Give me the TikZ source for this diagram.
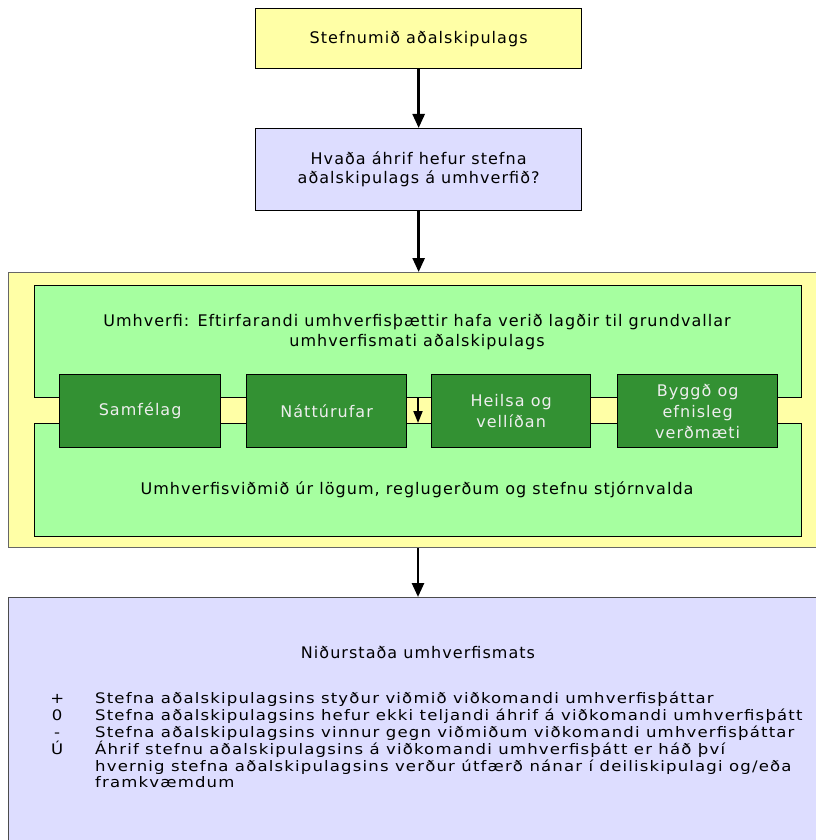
\documentclass[tikz,border=0pt]{standalone}
\usepackage{fontspec}
\setmainfont{DejaVu Sans}[LetterSpace=6.5]
\newfontfamily\listfont{DejaVu Sans}[LetterSpace=8, FakeStretch=1.14]
\usetikzlibrary{arrows.meta}
\definecolor{yel}{RGB}{255,255,166}
\definecolor{lav}{RGB}{221,221,255}
\definecolor{ltgreen}{RGB}{166,255,160}
\definecolor{dkgreen}{RGB}{51,145,51}
\definecolor{ltext}{RGB}{238,238,238}
\begin{document}
\begin{tikzpicture}[x=1pt,y=-1pt,
  box/.style={draw=black, line width=1.3pt, inner sep=0pt, anchor=north west},
  arr/.style={line width=2.6pt, -{Triangle[width=12pt,length=14pt]}},
  sarr/.style={line width=1.8pt, -{Triangle[width=9pt,length=12pt]}},
  txt/.style={inner sep=0pt, align=center, font=\fontsize{16}{20}\selectfont},
  dark/.style={box, fill=dkgreen, text=ltext, minimum height=73pt, align=center, font=\fontsize{16}{21}\selectfont}]
\useasboundingbox (0,0) rectangle (815,840);
\fill[white] (0,0) rectangle (815,840);
% top boxes
\node[box, fill=yel, minimum width=326pt, minimum height=60pt, font=\fontsize{16}{19}\selectfont] (top) at (255,8) {Stefnumið aðalskipulags};
\node[box, fill=lav, minimum width=326pt, minimum height=82pt, align=center, font=\fontsize{16}{19}\selectfont] (q) at (255,128) {Hvaða áhrif hefur stefna\\aðalskipulags á umhverfið?};
% outer yellow
\node[box, draw=black!60, line width=1pt, fill=yel, minimum width=822pt, minimum height=275pt] (outer) at (8,272) {};
\node[box, fill=ltgreen, minimum width=767pt, minimum height=112pt] (gtop) at (34,285) {};
\node[box, fill=ltgreen, minimum width=767pt, minimum height=113pt] (gbot) at (34,423) {};
\node[txt] (gtext) at (417,332) {Umhverfi: Eftirfarandi umhverfisþættir hafa verið lagðir til grundvallar\\umhverfismati aðalskipulags};
\node[txt] (btext) at (417,490) {Umhverfisviðmið úr lögum, reglugerðum og stefnu stjórnvalda};
% dark boxes
\node[dark, minimum width=161pt] (d1) at (59,374) {Samfélag};
\node[dark, minimum width=160pt] (d2) at (246,374) {Náttúrufar};
\node[dark, minimum width=159pt] (d3) at (431,374) {Heilsa og\\vellíðan};
\node[dark, minimum width=160pt] (d4) at (617,374) {Byggð og\\efnisleg\\verðmæti};
\coordinate (ax) at (418,0);
\draw[sarr] (gtop.south -| ax) -- (gbot.north -| ax);
% result
\node[box, draw=black!70, line width=1pt, fill=lav, minimum width=822pt, minimum height=263pt] (res) at (8,597) {};
\node[txt] (rtitle) at (418,653) {Niðurstaða umhverfismats};
\node[anchor=north west, inner sep=0pt, align=left, font=\listfont\fontsize{14.5}{16.8}\selectfont] (list) at (46,692) {%
\makebox[22pt]{+}\hspace{27pt}Stefna aðalskipulagsins styður viðmið viðkomandi umhverfisþáttar\\
\makebox[22pt]{0}\hspace{27pt}Stefna aðalskipulagsins hefur ekki teljandi áhrif á viðkomandi umhverfisþátt\\
\makebox[22pt]{-}\hspace{27pt}Stefna aðalskipulagsins vinnur gegn viðmiðum viðkomandi umhverfisþáttar\\
\makebox[22pt]{Ú}\hspace{27pt}Áhrif stefnu aðalskipulagsins á viðkomandi umhverfisþátt er háð því\\
\hspace{49pt}hvernig stefna aðalskipulagsins verður útfærð nánar í deiliskipulagi og/eða\\
\hspace{49pt}framkvæmdum};
% arrows
\draw[arr] (top.south) -- (q.north);
\draw[arr] (q.south) -- (outer.north -| q.south);
\draw[arr] (outer.south -| ax) -- (res.north -| ax);
\end{tikzpicture}
\end{document}
